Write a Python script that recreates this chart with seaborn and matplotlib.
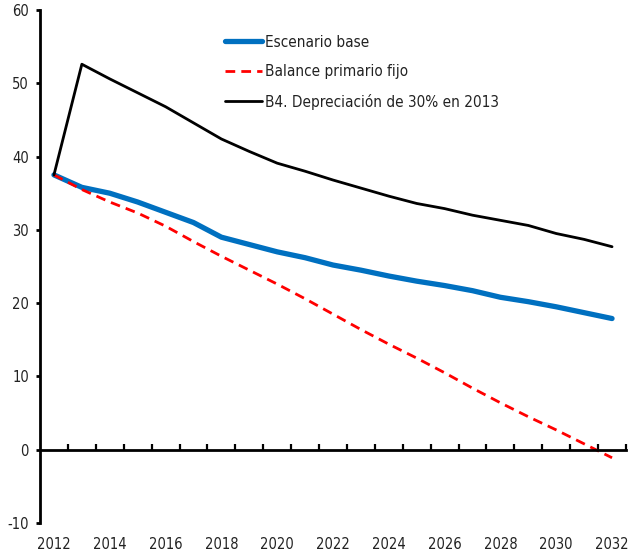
import matplotlib
matplotlib.use("Agg")
import matplotlib.pyplot as plt
import seaborn as sns
import numpy as np
import pandas as pd

years = list(range(2012, 2033))
escenario_base = [37.5, 35.8, 35.0, 33.8, 32.4, 31.0, 29.0, 28.0, 27.0, 26.2, 25.2,
                  24.5, 23.7, 23.0, 22.4, 21.7, 20.8, 20.2, 19.5, 18.7, 17.9]
balance_fijo = [37.5, 35.5, 33.8, 32.3, 30.5, 28.4, 26.4, 24.5, 22.6, 20.6, 18.5,
                16.4, 14.4, 12.5, 10.5, 8.4, 6.4, 4.5, 2.7, 0.8, -1.1]
depreciacion = [37.5, 52.6, 50.6, 48.7, 46.8, 44.6, 42.4, 40.7, 39.1, 38.0, 36.8,
                35.7, 34.6, 33.6, 32.9, 32.0, 31.3, 30.6, 29.5, 28.7, 27.7]
labels = ["Escenario base", "Balance primario fijo", "B4. Depreciación de 30% en 2013"]
xtick_labels = [str(y) for y in range(2012, 2033, 2)]
yticks = [-10, 0, 10, 20, 30, 40, 50, 60]

sns.set_theme(style="white")
plt.rcParams['font.family'] = ['DejaVu Sans']
plt.rcParams['font.stretch'] = 'condensed'
plt.rcParams['axes.unicode_minus'] = False

fig = plt.figure(figsize=(6.28, 5.54), dpi=100)
ax = fig.add_axes([40/628, 1-523/554, 586/628, 513/554])

sns.lineplot(x=years, y=escenario_base, ax=ax, color="#0070C0", linewidth=3.8,
             label=labels[0])
sns.lineplot(x=years, y=balance_fijo, ax=ax, color="#FF0000", linewidth=2.0,
             label=labels[1], dashes=False)
ax.lines[-1].set_linestyle((0, (3.5, 2.2)))
sns.lineplot(x=years, y=depreciacion, ax=ax, color="black", linewidth=2.0,
             label=labels[2])

ax.set_xlim(2011.5, 2032.5)
ax.set_ylim(-10, 60)

for s in ["top", "right"]:
    ax.spines[s].set_visible(False)
ax.spines["left"].set_linewidth(2.0)
ax.spines["left"].set_color("black")
ax.spines["bottom"].set_position(("data", 0))
ax.spines["bottom"].set_linewidth(2.0)
ax.spines["bottom"].set_color("black")

ax.set_yticks(yticks)
ax.tick_params(axis="y", direction="out", length=3, width=2, color="black",
               labelsize=10.5, pad=5, labelcolor="#222222", left=True)
ax.set_xticks(np.arange(2012.5, 2033, 1.0))
ax.tick_params(axis="x", direction="in", length=4.5, width=1.6, color="black",
               labelbottom=False, bottom=True)

sec = ax.secondary_xaxis("bottom")
sec.set_xticks(list(range(2012, 2033, 2)))
sec.set_xticklabels(xtick_labels)
sec.tick_params(length=0, labelsize=10.5, pad=10, labelcolor="#222222")
sec.spines["bottom"].set_visible(False)

ax.set_xlabel("")
ax.set_ylabel("")
ax.grid(False)

leg = ax.legend(loc="upper left", bbox_to_anchor=(0.3157, 0.952), frameon=False,
                fontsize=11, handlelength=2.4, handletextpad=0.2,
                labelspacing=0.95, borderpad=0, borderaxespad=0)
for t in leg.get_texts():
    t.set_color("#222222")

fig.savefig("out.png", dpi=100)
